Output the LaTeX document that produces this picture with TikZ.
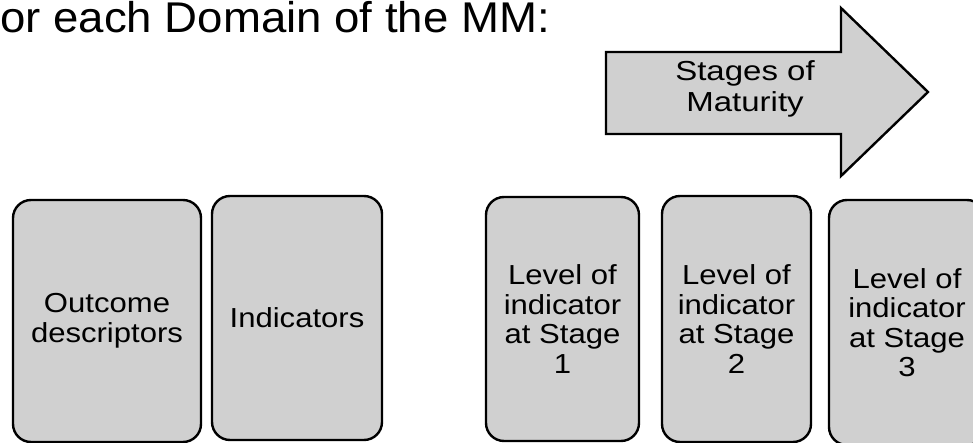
\documentclass[tikz,border=0pt]{standalone}
\usepackage{fontspec}
\setmainfont{Liberation Sans}
\newfontfamily\headfont{Liberation Sans}[FakeStretch=1.06]
\newfontfamily\cardfont{Liberation Sans}[FakeStretch=1.13]
\newfontfamily\arrowfont{Liberation Sans}[FakeStretch=1.2]
\definecolor{cardgray}{HTML}{D0D0D0}
\tikzset{
  card/.style={draw=black, line width=2.4pt, fill=cardgray, rounded corners=18pt,
    align=center, inner sep=0pt,
    font=\cardfont\fontsize{27.5}{29.5}\selectfont},
  banner/.style={draw=black, line width=2.4pt, fill=cardgray, line join=miter},
}
\begin{document}
\begin{tikzpicture}[x=1pt,y=-1pt]
  \useasboundingbox (0,0) rectangle (973,443);
  \clip (0,0) rectangle (973,443);

  % heading
  \node[anchor=base west, inner sep=0pt, font=\headfont\fontsize{43}{46}\selectfont]
    (title) at (0,33) {or each Domain of the MM:};

  % maturity arrow
  \draw[banner] (606,52) -- (841,52) -- (841,8) -- (928,92) -- (841,176)
    -- (841,134) -- (606,134) -- cycle;
  \node[align=center, inner sep=0pt, font=\arrowfont\fontsize{27.5}{31}\selectfont]
    (stages) at (745,89) {Stages of\\Maturity};

  % cards
  \node[card, minimum width=188pt, minimum height=242pt] (outcome) at (107,321)
    {Outcome\\descriptors};
  \node[card, minimum width=170pt, minimum height=244pt] (ind) at (297,318)
    {Indicators};
  \node[card, minimum width=153pt, minimum height=244pt] (lv1) at (562.5,319)
    {Level of\\indicator\\at Stage\\1};
  \node[card, minimum width=149pt, minimum height=246pt] (lv2) at (736.5,319)
    {Level of\\indicator\\at Stage\\2};
  \node[card, minimum width=156pt, minimum height=245pt] (lv3) at (907,322.5)
    {Level of\\indicator\\at Stage\\3};
\end{tikzpicture}
\end{document}
